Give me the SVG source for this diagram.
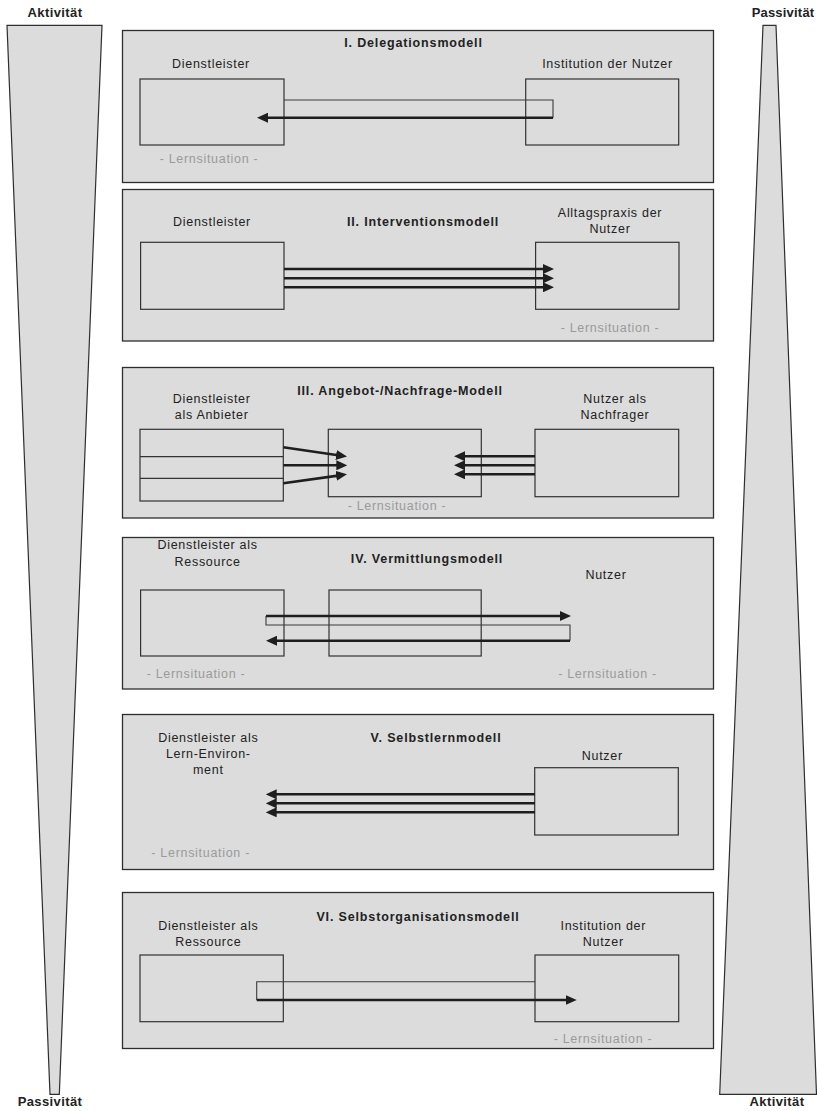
<svg xmlns="http://www.w3.org/2000/svg" width="817" height="1111" viewBox="0 0 817 1111">
<defs>
<style>
.bg{fill:#ffffff}
.panel{fill:#dcdcdc;stroke:#2e2e2e;stroke-width:1.3}
.box{fill:none;stroke:#333333;stroke-width:1.2}
.wedge{fill:#dcdcdc;stroke:#2e2e2e;stroke-width:1.2}
.lbl{font-family:"Liberation Sans",Arial,sans-serif;font-size:12.5px;letter-spacing:0.7px;fill:#222222;text-anchor:middle}
.ttl{font-family:"Liberation Sans",Arial,sans-serif;font-size:12.5px;letter-spacing:0.85px;font-weight:bold;fill:#222222;text-anchor:middle}
.lern{font-family:"Liberation Sans",Arial,sans-serif;font-size:12.5px;letter-spacing:0.7px;fill:#9a9a9a;text-anchor:middle}
.side{font-family:"Liberation Sans",Arial,sans-serif;font-size:13px;letter-spacing:0.4px;font-weight:bold;fill:#222222;text-anchor:middle}
.thin{fill:none;stroke:#3a3a3a;stroke-width:1.1}
.thick{fill:none;stroke:#1e1e1e;stroke-width:2.6;marker-end:url(#ah)}
</style>
<marker id="ah" viewBox="0 0 11 10" markerWidth="11" markerHeight="10" markerUnits="userSpaceOnUse" refX="2" refY="5" orient="auto">
<path d="M0,0 L11,5 L0,10 Z" fill="#1e1e1e"/>
</marker>
</defs>
<rect class="bg" x="0" y="0" width="817" height="1111"/>

<g id="scale-left">
<polygon class="wedge" points="7,25.3 102,25.3 59.3,1094.3 50,1094.3"/>
<text class="side" x="55" y="16.5">Aktivität</text>
<text class="side" x="50" y="1106">Passivität</text>
</g>
<g id="scale-right">
<polygon class="wedge" points="763,25.3 776,25.3 816.5,1094.3 719.7,1094.3"/>
<text class="side" x="783" y="16.5" style="letter-spacing:0.2px">Passivität</text>
<text class="side" x="777" y="1106">Aktivität</text>
</g>

<g id="panel-1">
<rect class="panel" x="122.5" y="30.5" width="591" height="152"/>
<text class="ttl" x="413.5" y="46.5">I. Delegationsmodell</text>
<g id="p1-dienstleister"><rect class="box" x="140" y="79" width="144" height="66"/><text class="lbl" x="211" y="68">Dienstleister</text></g>
<g id="p1-institution"><rect class="box" x="525.7" y="79" width="153" height="66"/><text class="lbl" x="607.5" y="68">Institution der Nutzer</text></g>
<text class="lern" x="209" y="163">- Lernsituation -</text>
</g>

<g id="panel-2">
<rect class="panel" x="122.5" y="189.5" width="591" height="151.5"/>
<text class="ttl" x="423" y="226">II. Interventionsmodell</text>
<g id="p2-dienstleister"><rect class="box" x="140.6" y="242.3" width="143.4" height="67"/><text class="lbl" x="212" y="226">Dienstleister</text></g>
<g id="p2-alltagspraxis"><rect class="box" x="535.6" y="242.3" width="143.4" height="67"/><text class="lbl" x="610" y="216.5">Alltagspraxis der</text><text class="lbl" x="610" y="233">Nutzer</text></g>
<text class="lern" x="610" y="331.5">- Lernsituation -</text>
</g>

<g id="panel-3">
<rect class="panel" x="122.5" y="367.5" width="591" height="150.5"/>
<text class="ttl" x="400" y="395">III. Angebot-/Nachfrage-Modell</text>
<g id="p3-anbieter"><rect class="box" x="140" y="429.3" width="143.3" height="71.7"/><line class="box" x1="140" y1="456.7" x2="283.3" y2="456.7"/><line class="box" x1="140" y1="478.3" x2="283.3" y2="478.3"/><text class="lbl" x="211.7" y="403">Dienstleister</text><text class="lbl" x="211.7" y="419.3">als Anbieter</text></g>
<g id="p3-lernsituation"><rect class="box" x="328.3" y="429.3" width="153" height="67.4"/><text class="lern" x="397" y="510">- Lernsituation -</text></g>
<g id="p3-nachfrager"><rect class="box" x="535" y="429.3" width="143.7" height="67.4"/><text class="lbl" x="615" y="403">Nutzer als</text><text class="lbl" x="615" y="419.3">Nachfrager</text></g>
</g>

<g id="panel-4">
<rect class="panel" x="122.5" y="537.5" width="591" height="151.5"/>
<text class="ttl" x="427" y="563.3">IV. Vermittlungsmodell</text>
<g id="p4-ressource"><rect class="box" x="140.6" y="590" width="143.4" height="66"/><text class="lbl" x="207.6" y="549.3">Dienstleister als</text><text class="lbl" x="207.6" y="566">Ressource</text></g>
<g id="p4-mitte"><rect class="box" x="329" y="590" width="152.2" height="66"/></g>
<g id="p4-nutzer"><text class="lbl" x="606" y="579.3">Nutzer</text></g>
<text class="lern" x="196" y="678.3">- Lernsituation -</text>
<text class="lern" x="607.5" y="678.3">- Lernsituation -</text>
</g>

<g id="panel-5">
<rect class="panel" x="122.5" y="714.5" width="591" height="155"/>
<text class="ttl" x="436" y="741.7">V. Selbstlernmodell</text>
<g id="p5-environment"><text class="lbl" x="208.3" y="741.7">Dienstleister als</text><text class="lbl" x="208.3" y="757.7">Lern-Environ-</text><text class="lbl" x="208.3" y="773.5">ment</text></g>
<g id="p5-nutzer"><rect class="box" x="534.7" y="767.7" width="143.6" height="67.3"/><text class="lbl" x="602.3" y="760">Nutzer</text></g>
<text class="lern" x="200.7" y="856.7">- Lernsituation -</text>
</g>

<g id="panel-6">
<rect class="panel" x="122.5" y="892.5" width="591" height="156"/>
<text class="ttl" x="418" y="921">VI. Selbstorganisationsmodell</text>
<g id="p6-ressource"><rect class="box" x="140" y="955" width="143.3" height="66.7"/><text class="lbl" x="208.3" y="930">Dienstleister als</text><text class="lbl" x="208.3" y="945.5">Ressource</text></g>
<g id="p6-institution"><rect class="box" x="535" y="955" width="143.7" height="66.7"/><text class="lbl" x="603.3" y="930">Institution der</text><text class="lbl" x="603.3" y="945.5">Nutzer</text></g>
<text class="lern" x="603" y="1043">- Lernsituation -</text>
</g>

<g id="connectors">
<path class="thin" d="M284,100 H553 V117.7"/>
<path class="thick" d="M553,117.7 H266"/>
<path class="thick" d="M284,269 H545"/>
<path class="thick" d="M284,278.3 H545"/>
<path class="thick" d="M284,287.3 H545"/>
<path class="thick" d="M283.3,447.3 L338.1,455.3"/>
<path class="thick" d="M283.3,465.3 H338.3"/>
<path class="thick" d="M283.3,483.3 L338.1,475.6"/>
<path class="thick" d="M535,456.3 H463"/>
<path class="thick" d="M535,465.3 H463"/>
<path class="thick" d="M535,474.3 H463"/>
<path class="thin" d="M266,616 V625 H570 V640.7"/>
<path class="thick" d="M266,616 H562"/>
<path class="thick" d="M570,640.7 H275"/>
<path class="thick" d="M535,794.3 H274.7"/>
<path class="thick" d="M535,803.3 H274.7"/>
<path class="thick" d="M535,812.3 H274.7"/>
<path class="thin" d="M535,981.7 H256.7 V1000"/>
<path class="thick" d="M256.7,1000 H567.7"/>
</g>
</svg>
